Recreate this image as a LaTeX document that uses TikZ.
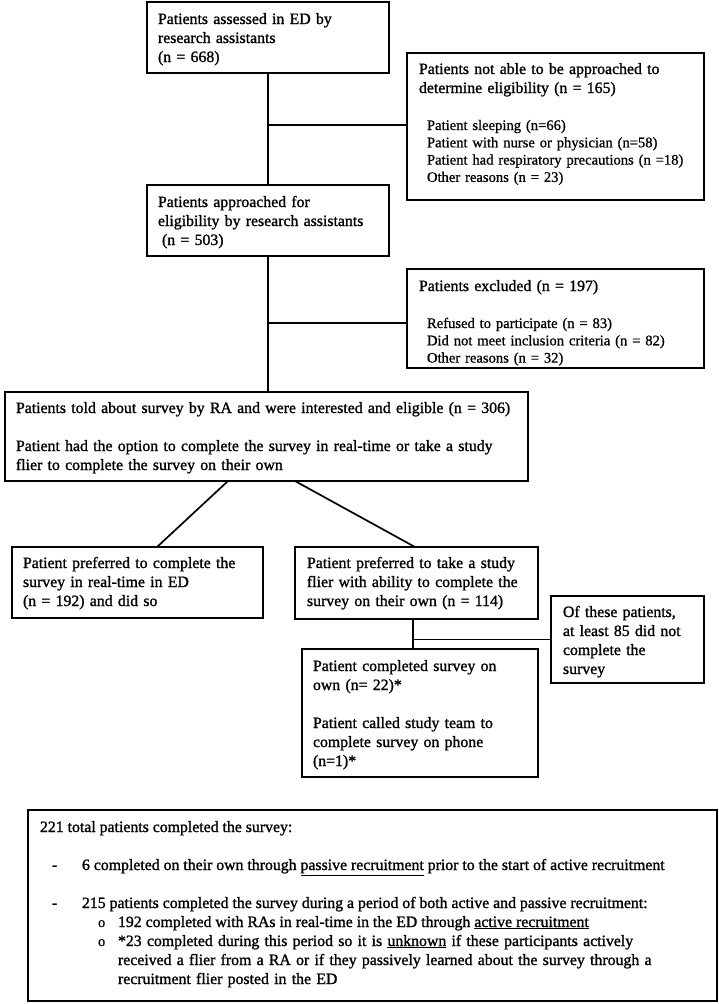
\documentclass[tikz,border=0pt]{standalone}
\usepackage{fontspec}
\setmainfont{Liberation Serif}
\newfontfamily\heavyserif[FakeBold=1.2]{Liberation Serif}
\newfontfamily\midserif[FakeBold=0.8]{Liberation Serif}
\usetikzlibrary{calc}
\newcommand\fa{\heavyserif\fontsize{15.8pt}{19pt}\selectfont}
\newcommand\fb{\midserif\fontsize{14.6pt}{17.3pt}\selectfont}
\newcommand\flowbox[5]{\node[box, minimum width={#4-#2}, minimum height={#5-#3}] (#1) at (#2,#3) {};}
\begin{document}
\begin{tikzpicture}[x=1pt,y=-1pt,
  box/.style={draw=black, line width=2pt, inner sep=0pt, outer sep=0pt, anchor=north west},
  conn/.style={draw=black, line width=1.7pt},
  txt/.style={anchor=base west, inner sep=0pt, outer sep=0pt, align=left, font=\fa},
  sub/.style={anchor=base west, inner sep=0pt, outer sep=0pt, align=left, font=\fb},
  bulletmark/.style={anchor=base west, inner sep=0pt, outer sep=0pt, font=\fb}]
\useasboundingbox (0,0) rectangle (719,1004);
\fill[white] (0,0) rectangle (719,1004);

% boxes
\flowbox{b1}{147}{2}{389}{73}
\flowbox{b2}{407}{53}{704}{200}
\flowbox{b3}{147}{185}{389}{256}
\flowbox{b4}{407}{269}{704}{368}
\flowbox{b5}{5}{392}{528}{481}
\flowbox{b6}{12}{547}{263}{618}
\flowbox{b7}{295}{547}{538}{619}
\flowbox{b9}{551}{596}{704}{683}
\flowbox{b8}{302}{649}{538}{777}
\flowbox{b10}{28}{810}{717}{1001}

% texts
\node[txt, text width=228pt] (t1) at (158,24) {Patients assessed in ED by\\research assistants\\(n = 668)};
\node[txt, text width=282pt] (t2) at (419,74) {Patients not able to be approached to\\determine eligibility (n = 165)};
\node[sub, text width=275pt] (t2b) at (427,130) {Patient sleeping (n=66)\\Patient with nurse or physician (n=58)\\Patient had respiratory precautions (n =18)\\Other reasons (n = 23)};
\node[txt, text width=228pt] (t3) at (158,207) {Patients approached for\\eligibility by research assistants\\\hspace*{4pt}(n = 503)};
\node[txt, text width=282pt] (t4) at (419,291) {Patients excluded (n = 197)};
\node[sub, text width=275pt] (t4b) at (427,328) {Refused to participate (n = 83)\\Did not meet inclusion criteria (n = 82)\\Other reasons (n = 32)};
\node[txt, text width=520pt] (t5) at (16,413) {Patients told about survey by RA and were interested and eligible (n = 306)\\[19pt]Patient had the option to complete the survey in real-time or take a study\\flier to complete the survey on their own};
\node[txt, text width=238pt] (t6) at (23,568) {Patient preferred to complete the\\survey in real-time in ED\\(n = 192) and did so};
\node[txt, text width=230pt] (t7) at (307,568) {Patient preferred to take a study\\flier with ability to complete the\\survey on their own (n = 114)};
\node[txt, text width=140pt] (t9) at (563,617) {Of these patients,\\at least 85 did not\\complete the\\survey};
\node[txt, text width=224pt] (t8) at (313,671) {Patient completed survey on\\own (n= 22)*\\[19pt]Patient called study team to\\complete survey on phone\\(n=1)*};

\node[txt] (l1) at (40,832) {221 total patients completed the survey:};
\node[txt] (d1) at (52,870) {-};
\node[txt] (l2) at (82,870) {6 completed on their own through \underline{passive recruitment} prior to the start of active recruitment};
\node[txt] (d2) at (52,908) {-};
\node[txt] (l3) at (82,908) {215 patients completed the survey during a period of both active and passive recruitment:};
\node[bulletmark] (o1) at (98,927) {o};
\node[txt] (l4) at (118,927) {192 completed with RAs in real-time in the ED through \underline{active recruitment}};
\node[bulletmark] (o2) at (98,946) {o};
\node[txt, text width=590pt] (l5) at (118,946) {*23 completed during this period so it is \underline{unknown} if these participants actively\\received a flier from a RA or if they passively learned about the survey through a\\recruitment flier posted in the ED};

% connectors
\draw[conn] (b1.south) -- (b3.north);
\coordinate (j1) at ($(b2.west)+(0,-1.5)$);
\draw[conn] (j1 -| b1.south) -- (j1);
\draw[conn] (b3.south) -- (b3.south |- b5.north);
\coordinate (j2) at ($(b4.west)+(0,4.5)$);
\draw[conn] (j2 -| b3.south) -- (j2);
\draw[conn] ($(b5.south)+(-38.5,0)$) -- ($(b6.north)+(19.5,0)$);
\draw[conn] ($(b5.south)+(28.5,0)$) -- ($(b7.north)+(-1.5,0)$);
\coordinate (v3) at ($(b7.south)+(-3.5,0)$);
\draw[conn] (v3) -- (v3 |- b8.north);
\draw[conn] (v3 |- b9.west) -- (b9.west);
\end{tikzpicture}
\end{document}
